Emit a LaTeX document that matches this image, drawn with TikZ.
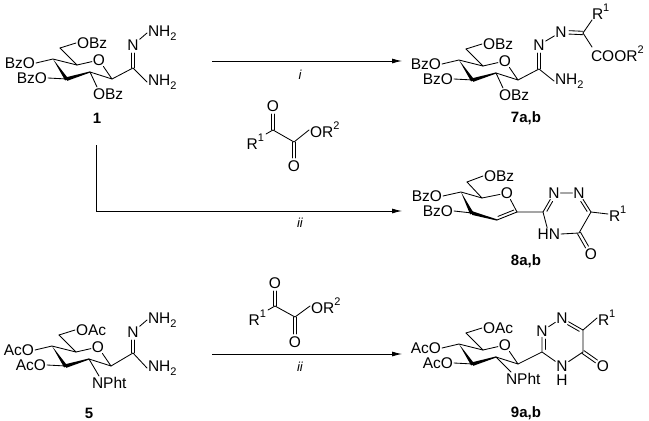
\documentclass[tikz,border=0pt]{standalone}
\usepackage{fontspec}
\setmainfont{Liberation Sans}
\usetikzlibrary{calc,arrows.meta}
\newcommand\lo[1]{\raisebox{-.28em}{\fontsize{11}{12}\selectfont #1}}
\newcommand\hi[1]{\raisebox{.5em}{\fontsize{11}{12}\selectfont #1}}
% inner line of a double bond: from, to, signed offset, shortening at each end
\newcommand\dblin[5]{\draw[bond,shorten <=#4,shorten >=#5] ($(#1)!#3!90:(#2)$) -- ($(#2)!#3!-90:(#1)$);}
% symmetric double bond: from, to, shortening at each end
\newcommand\dblsym[4]{\draw[bond,shorten <=#3,shorten >=#4] ($(#1)!1.7pt!90:(#2)$) -- ($(#2)!1.7pt!-90:(#1)$); \draw[bond,shorten <=#3,shorten >=#4] ($(#1)!1.7pt!-90:(#2)$) -- ($(#2)!1.7pt!90:(#1)$);}
% sugar ring: prefix, dx, dy, acyl
\newcommand\pyr[4]{%
\begin{scope}[shift={(#2,#3)}]
\coordinate (#1c6) at (60,48); \coordinate (#1c5) at (77,65);
\coordinate (#1c4) at (53,59); \coordinate (#1c3) at (67,79);
\coordinate (#1c2) at (90,72); \coordinate (#1c1) at (112,79);
\node[atom] (#1ro) at (99,60) {O};
\node[atom,anchor=west] (#1o6) at (76,43) {O#4};
\node[atom,anchor=east] (#1o4) at (36,63) {#4O};
\node[atom,anchor=east] (#1o3) at (48,78) {#4O};
\draw[bond] (#1c6) -- (#1o6.west);
\draw[bond] (#1c6) -- (#1c5) -- (#1ro);
\draw[bond] (#1ro) -- (#1c1) -- (#1c2);
\draw[bond] (#1c5) -- (#1c4) -- (#1o4.east);
\draw[bond] (#1c3) -- (#1o3.east);
\fill (#1c4) -- ($(#1c3)+(1.9,.4)$) -- ($(#1c3)+(-1.9,1.4)$) -- cycle;
\fill ($(#1c3)+(0,-1.9)$) -- ($(#1c2)+(0,-.6)$) -- ($(#1c2)+(0,.6)$) -- ($(#1c3)+(0,1.9)$) -- cycle;
\end{scope}}
\tikzset{
 bond/.style={line width=.85pt,line cap=round,line join=round},
 atom/.style={font=\fontsize{15.5}{18}\selectfont,inner sep=.8pt,text=black},
 lab/.style={font=\fontsize{15}{18}\selectfont\bfseries,inner sep=0pt},
 cond/.style={font=\fontsize{13}{15}\selectfont\itshape,inner sep=0pt},
 rx/.style={line width=.85pt,-{Latex[length=10pt,width=5pt]}}
}
\begin{document}
\begin{tikzpicture}[x=1pt,y=-1pt]
\useasboundingbox (0,0) rectangle (649,421);
% --- 1
\pyr{a}{0}{0}{Bz}
\node[atom,anchor=west] (aob) at (92,94) {OBz};
\coordinate (aobe) at (97,87);
\draw[bond] (ac2) -- (aobe);
\coordinate (aam) at (133,68);
\node[atom] (an) at (133,45) {N};
\node[atom,anchor=west] (ann) at (147,33) {NH\lo{2}};
\node[atom,anchor=west] (anb) at (147,82) {NH\lo{2}};
\draw[bond] (ac1) -- (aam) -- (anb.west);
\dblsym{an}{aam}{8pt}{0pt}
\draw[bond] (an) -- (ann.west);
\node[lab] (l1) at (97,118) {1};
% --- 7
\pyr{b}{406}{1}{Bz}
\node[atom,anchor=west] (bob) at (498,95) {OBz};
\coordinate (bobe) at (503,88);
\draw[bond] (bc2) -- (bobe);
\coordinate (bam) at (539,69);
\node[atom] (bn) at (539,45) {N};
\node[atom] (bn2) at (561,32) {N};
\coordinate (bc) at (583,33);
\node[atom,anchor=west] (bnb) at (554,81) {NH\lo{2}};
\node[atom,anchor=west] (br) at (591,12) {R\hi{1}};
\node[atom,anchor=west] (bcoo) at (590,54) {COOR\hi{2}};
\coordinate (bre) at (592,20);
\coordinate (bcoe) at (592,47);
\draw[bond] (bc1) -- (bam) -- (bnb.west);
\dblsym{bn}{bam}{8pt}{0pt}
\draw[bond] (bn) -- (bn2);
\dblsym{bn2}{bc}{8pt}{0pt}
\draw[bond] (bc) -- (bre);
\draw[bond] (bc) -- (bcoe);
\node[lab] (l7) at (526,118) {7a,b};
% --- 8
\coordinate (cc6) at (467,182); \coordinate (cc5) at (482,198);
\coordinate (cc4) at (461,192); \coordinate (cc3) at (472,213);
\coordinate (cc2) at (497,220); \coordinate (cc1) at (517,212);
\node[atom] (cro) at (507,193) {O};
\node[atom,anchor=west] (co6) at (483,176) {OBz};
\node[atom,anchor=east] (co4) at (443,196) {BzO};
\node[atom,anchor=east] (co3) at (454,211) {BzO};
\draw[bond] (cc6) -- (co6.west);
\draw[bond] (cc6) -- (cc5) -- (cro);
\draw[bond] (cro) -- (cc1);
\draw[bond] (cc2) -- (cc1);
\dblin{cc2}{cc1}{3pt}{2.2pt}{2.2pt}
\draw[bond] (cc5) -- (cc4) -- (co4.east);
\draw[bond] (cc3) -- (co3.east);
\fill (cc4) -- ($(cc3)+(1.9,.4)$) -- ($(cc3)+(-1.9,1.4)$) -- cycle;
\fill ($(cc3)+(0,-1.9)$) -- ($(cc2)+(0,-.6)$) -- ($(cc2)+(0,.6)$) -- ($(cc3)+(0,1.9)$) -- cycle;
\coordinate (ct3) at (543,212);
\node[atom] (ctn2) at (554,193) {N};
\node[atom] (ctn1) at (579,193) {N};
\coordinate (ct6) at (591,212);
\coordinate (ct5) at (579,233);
\node[atom,anchor=east] (ctn4) at (561,234) {HN};
\node[atom] (cto) at (591,254) {O};
\node[atom,anchor=west] (ctr) at (608,214) {R\hi{1}};
\draw[bond] (cc1) -- (ct3) -- (ctn2) -- (ctn1) -- (ct6) -- (ct5) -- (ctn4.east);
\draw[bond] (ctn4) -- (ct3);
\dblin{ct3}{ctn2}{-3pt}{2.5pt}{8pt}
\dblin{ctn1}{ct6}{-3pt}{8pt}{2.5pt}
\draw[bond] (ct6) -- (ctr.west);
\dblsym{ct5}{cto}{0pt}{8pt}
\node[lab] (l8) at (526,261) {8a,b};
% --- 5
\pyr{d}{-1}{287}{Ac}
\node[atom,anchor=west] (dnp) at (91,383) {NPht};
\coordinate (dne) at (99,376);
\draw[bond] (dc2) -- (dne);
\coordinate (dam) at (133,353);
\node[atom] (dn) at (133,332) {N};
\node[atom,anchor=west] (dnn) at (147,320) {NH\lo{2}};
\node[atom,anchor=west] (dnb) at (147,368) {NH\lo{2}};
\draw[bond] (dc1) -- (dam) -- (dnb.west);
\dblsym{dn}{dam}{8pt}{0pt}
\draw[bond] (dn) -- (dnn.west);
\node[lab] (l5) at (89,413) {5};
% --- 9
\pyr{e}{406}{285}{Ac}
\node[atom,anchor=west] (enp) at (505,379) {NPht};
\coordinate (ene) at (511,372);
\draw[bond] (ec2) -- (ene);
\coordinate (et3) at (542,352);
\node[atom] (etn2) at (542,331) {N};
\node[atom] (etn1) at (562,318) {N};
\coordinate (et6) at (583,330);
\coordinate (et5) at (583,352);
\node[atom] (etn4) at (562,366) {N};
\node[atom] (eth) at (562,380) {H};
\node[atom] (eto) at (603,366) {O};
\node[atom,anchor=west] (etr) at (597,318) {R\hi{1}};
\draw[bond] (ec1) -- (et3) -- (etn2) -- (etn1) -- (et6) -- (et5) -- (etn4) -- (et3);
\dblin{et3}{etn2}{-3pt}{2.5pt}{8pt}
\dblin{etn1}{et6}{-3pt}{8pt}{2.5pt}
\dblsym{et5}{eto}{0pt}{8pt}
\draw[bond] (et6) -- (etr.west);
\node[lab] (l9) at (526,413) {9a,b};
% --- reagent top
\node[atom] (fo1) at (273,106) {O};
\coordinate (fc1) at (273,130);
\coordinate (fc2) at (294,142);
\node[atom] (fo2) at (294,166) {O};
\node[atom,anchor=west] (for) at (309,130) {OR\hi{2}};
\node[atom,anchor=east] (fr) at (265,142) {R\hi{1}};
\coordinate (fre) at (266,134);
\dblsym{fo1}{fc1}{8pt}{0pt}
\dblsym{fc2}{fo2}{0pt}{8pt}
\draw[bond] (fre) -- (fc1) -- (fc2) -- (for.west);
% --- reagent bottom
\node[atom] (go1) at (275,283) {O};
\coordinate (gc1) at (275,306);
\coordinate (gc2) at (295,317);
\node[atom] (go2) at (295,342) {O};
\node[atom,anchor=west] (gor) at (310,306) {OR\hi{2}};
\node[atom,anchor=east] (gr) at (267,318) {R\hi{1}};
\coordinate (gre) at (268,310);
\dblsym{go1}{gc1}{8pt}{0pt}
\dblsym{gc2}{go2}{0pt}{8pt}
\draw[bond] (gre) -- (gc1) -- (gc2) -- (gor.west);
% --- arrows
\coordinate (r1s) at (212,61); \coordinate (r1e) at (402,61);
\draw[rx] (r1s) -- (r1e);
\node[cond] (ci) at (300,75) {i};
\coordinate (r2s) at (96,145); \coordinate (r2m) at (96,211); \coordinate (r2e) at (402,211);
\draw[rx] (r2s) -- (r2m) -- (r2e);
\node[cond] (cii) at (300,223) {ii};
\coordinate (r3s) at (212,354); \coordinate (r3e) at (402,354);
\draw[rx] (r3s) -- (r3e);
\node[cond] (ciii) at (300,367) {ii};
\end{tikzpicture}
\end{document}
